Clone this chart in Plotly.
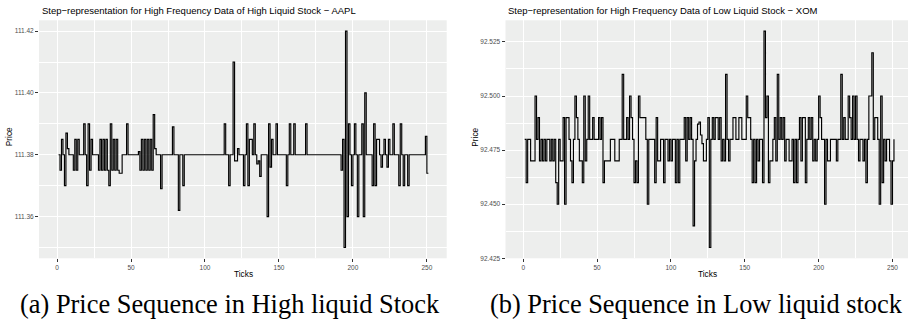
import plotly.graph_objects as go

W, H = 913, 324

ticks = list(range(1, 252))

aapl_price = [
    111.380, 111.375, 111.385, 111.380, 111.370, 111.387, 111.382, 111.380, 111.380, 111.380,
    111.375, 111.385, 111.375, 111.385, 111.380, 111.380, 111.380, 111.390, 111.380, 111.370,
    111.390, 111.375, 111.385, 111.380, 111.380, 111.380, 111.380, 111.375, 111.385, 111.375,
    111.385, 111.375, 111.385, 111.375, 111.370, 111.390, 111.375, 111.385, 111.375, 111.385,
    111.375, 111.374, 111.374, 111.380, 111.380, 111.380, 111.390, 111.380, 111.380, 111.380,
    111.380, 111.380, 111.380, 111.380, 111.381, 111.375, 111.385, 111.375, 111.385, 111.375,
    111.385, 111.375, 111.385, 111.375, 111.393, 111.382, 111.380, 111.380, 111.380, 111.369,
    111.380, 111.380, 111.380, 111.380, 111.380, 111.380, 111.380, 111.389, 111.380, 111.380,
    111.380, 111.362, 111.380, 111.380, 111.370, 111.380, 111.380, 111.380, 111.380, 111.380,
    111.380, 111.380, 111.380, 111.380, 111.380, 111.380, 111.380, 111.380, 111.380, 111.380,
    111.380, 111.380, 111.380, 111.380, 111.380, 111.380, 111.380, 111.380, 111.380, 111.380,
    111.380, 111.380, 111.390, 111.380, 111.380, 111.370, 111.380, 111.380, 111.410, 111.378,
    111.378, 111.382, 111.380, 111.380, 111.380, 111.370, 111.380, 111.390, 111.370, 111.385,
    111.385, 111.380, 111.390, 111.380, 111.377, 111.378, 111.373, 111.380, 111.380, 111.380,
    111.380, 111.360, 111.390, 111.376, 111.385, 111.380, 111.380, 111.390, 111.380, 111.380,
    111.380, 111.380, 111.380, 111.380, 111.370, 111.380, 111.390, 111.380, 111.380, 111.390,
    111.380, 111.380, 111.380, 111.380, 111.380, 111.380, 111.380, 111.390, 111.380, 111.380,
    111.380, 111.380, 111.380, 111.380, 111.380, 111.380, 111.380, 111.380, 111.380, 111.380,
    111.380, 111.380, 111.380, 111.380, 111.380, 111.380, 111.380, 111.380, 111.380, 111.380,
    111.380, 111.375, 111.385, 111.350, 111.420, 111.360, 111.390, 111.380, 111.370, 111.380,
    111.390, 111.380, 111.360, 111.380, 111.380, 111.390, 111.360, 111.400, 111.380, 111.380,
    111.380, 111.380, 111.370, 111.390, 111.370, 111.385, 111.385, 111.380, 111.376, 111.380,
    111.385, 111.380, 111.376, 111.385, 111.380, 111.380, 111.390, 111.380, 111.380, 111.380,
    111.370, 111.390, 111.380, 111.370, 111.380, 111.380, 111.370, 111.380, 111.380, 111.380,
    111.380, 111.380, 111.380, 111.380, 111.380, 111.380, 111.380, 111.380, 111.386, 111.374,
    111.374,
]

xom_price = [
    92.48, 92.46, 92.48, 92.48, 92.47, 92.47, 92.47, 92.50, 92.48, 92.49,
    92.47, 92.48, 92.47, 92.48, 92.47, 92.48, 92.48, 92.47, 92.48, 92.47,
    92.48, 92.46, 92.45, 92.48, 92.47, 92.47, 92.49, 92.45, 92.49, 92.49,
    92.48, 92.47, 92.46, 92.48, 92.50, 92.49, 92.48, 92.47, 92.47, 92.46,
    92.50, 92.47, 92.48, 92.50, 92.48, 92.48, 92.49, 92.48, 92.48, 92.48,
    92.49, 92.48, 92.49, 92.46, 92.47, 92.47, 92.47, 92.47, 92.48, 92.48,
    92.48, 92.47, 92.47, 92.47, 92.48, 92.48, 92.51, 92.48, 92.48, 92.49,
    92.48, 92.50, 92.49, 92.48, 92.46, 92.47, 92.46, 92.50, 92.49, 92.49,
    92.49, 92.49, 92.48, 92.45, 92.48, 92.48, 92.48, 92.48, 92.46, 92.49,
    92.47, 92.47, 92.48, 92.48, 92.46, 92.48, 92.48, 92.47, 92.48, 92.47,
    92.48, 92.48, 92.46, 92.48, 92.46, 92.48, 92.48, 92.48, 92.49, 92.47,
    92.49, 92.48, 92.49, 92.48, 92.44, 92.47, 92.48, 92.487, 92.488, 92.482,
    92.478, 92.47, 92.47, 92.48, 92.49, 92.43, 92.48, 92.49, 92.48, 92.49,
    92.49, 92.48, 92.49, 92.47, 92.48, 92.47, 92.51, 92.48, 92.47, 92.48,
    92.48, 92.49, 92.49, 92.48, 92.48, 92.49, 92.49, 92.48, 92.48, 92.48,
    92.50, 92.49, 92.49, 92.48, 92.46, 92.48, 92.46, 92.48, 92.47, 92.48,
    92.48, 92.46, 92.53, 92.49, 92.50, 92.46, 92.47, 92.47, 92.48, 92.49,
    92.47, 92.51, 92.48, 92.49, 92.48, 92.49, 92.47, 92.48, 92.48, 92.47,
    92.47, 92.48, 92.46, 92.48, 92.46, 92.48, 92.49, 92.47, 92.49, 92.49,
    92.46, 92.48, 92.49, 92.48, 92.49, 92.47, 92.48, 92.47, 92.48, 92.50,
    92.49, 92.48, 92.48, 92.45, 92.48, 92.47, 92.47, 92.48, 92.48, 92.48,
    92.48, 92.47, 92.48, 92.48, 92.51, 92.48, 92.49, 92.48, 92.48, 92.50,
    92.49, 92.48, 92.50, 92.48, 92.50, 92.48, 92.47, 92.48, 92.48, 92.47,
    92.48, 92.46, 92.48, 92.50, 92.50, 92.52, 92.48, 92.49, 92.49, 92.48,
    92.45, 92.50, 92.46, 92.48, 92.47, 92.48, 92.48, 92.47, 92.45, 92.47,
    92.48,
]

title_a = "Step\u2212representation for High Frequency Data of High Liquid Stock \u2212 AAPL"
title_b = "Step\u2212representation for High Frequency Data of Low Liquid Stock \u2212 XOM"
caption_a = "(a) Price Sequence in High liquid Stock"
caption_b = "(b) Price Sequence in Low liquid stock"
x_title = "Ticks"
y_title = "Price"

PANEL_BG = "#EDEEED"
TICK_FONT = dict(family="Liberation Sans, Arial, sans-serif", size=6.5, color="#4D4D4D")


def px_x(p):
    return p / W


def px_y(p):
    return 1 - p / H


fig = go.Figure()
fig.add_trace(go.Scatter(x=ticks, y=aapl_price, mode="lines", line_shape="hv",
                         line=dict(color="black", width=1.15), xaxis="x", yaxis="y",
                         showlegend=False, hoverinfo="skip"))
fig.add_trace(go.Scatter(x=ticks, y=xom_price, mode="lines", line_shape="hv",
                         line=dict(color="black", width=1.15), xaxis="x2", yaxis="y2",
                         showlegend=False, hoverinfo="skip"))

ydom = [px_y(260.7), px_y(20.5)]


def xaxis_cfg(dom, rng, anchor):
    return dict(domain=dom, range=rng, anchor=anchor, tick0=0, dtick=50,
                showgrid=True, gridcolor="white", gridwidth=1.2,
                minor=dict(tick0=0, dtick=25, showgrid=True, gridcolor="white", gridwidth=0.5),
                ticks="outside", ticklen=3, tickwidth=0.8, tickcolor="#333333",
                tickfont=TICK_FONT, zeroline=False, showline=False, fixedrange=True)


def yaxis_cfg(rng, anchor, t0, dt, mdt, fmt):
    return dict(domain=ydom, range=rng, anchor=anchor, tick0=t0, dtick=dt, tickformat=fmt,
                showgrid=True, gridcolor="white", gridwidth=1.2,
                minor=dict(tick0=t0, dtick=mdt, showgrid=True, gridcolor="white", gridwidth=0.5),
                ticks="outside", ticklen=3, tickwidth=0.8, tickcolor="#333333",
                tickfont=TICK_FONT, zeroline=False, showline=False, fixedrange=True)


fig.update_layout(
    width=W, height=H, margin=dict(l=0, r=0, t=0, b=0),
    paper_bgcolor="white", plot_bgcolor=PANEL_BG,
    xaxis=xaxis_cfg([px_x(39), px_x(446.7)], [-12.2, 263.4], "y"),
    yaxis=yaxis_cfg([111.3465, 111.4235], "x", 111.36, 0.02, 0.01, ".2f"),
    xaxis2=xaxis_cfg([px_x(505.5), px_x(908)], [-12, 260.5], "y2"),
    yaxis2=yaxis_cfg([92.425, 92.535], "x2", 92.425, 0.025, 0.0125, ".3f"),
)

SANS = "Liberation Sans, Arial, sans-serif"
SERIF = "Liberation Serif, Times New Roman, serif"
ann = []
for xp, t in [(40, title_a), (505.5, title_b)]:
    ann.append(dict(text=t, x=px_x(xp), y=px_y(10.5), xref="paper", yref="paper",
                    xanchor="left", yanchor="middle", showarrow=False,
                    font=dict(family=SANS, size=9.5, color="black")))
for xp in [243, 707]:
    ann.append(dict(text=x_title, x=px_x(xp), y=px_y(277), xref="paper", yref="paper",
                    xanchor="center", yanchor="middle", showarrow=False,
                    font=dict(family=SANS, size=8.3, color="black")))
for xp in [8.5, 475]:
    ann.append(dict(text=y_title, x=px_x(xp), y=px_y(138), xref="paper", yref="paper",
                    xanchor="center", yanchor="middle", showarrow=False, textangle=-90,
                    font=dict(family=SANS, size=8.3, color="black")))
for xp, t in [(229.5, caption_a), (696, caption_b)]:
    ann.append(dict(text=t, x=px_x(xp), y=px_y(307), xref="paper", yref="paper",
                    xanchor="center", yanchor="middle", showarrow=False,
                    font=dict(family=SERIF, size=26.4, color="black")))
fig.update_layout(annotations=ann)

fig.write_html("out.html")
